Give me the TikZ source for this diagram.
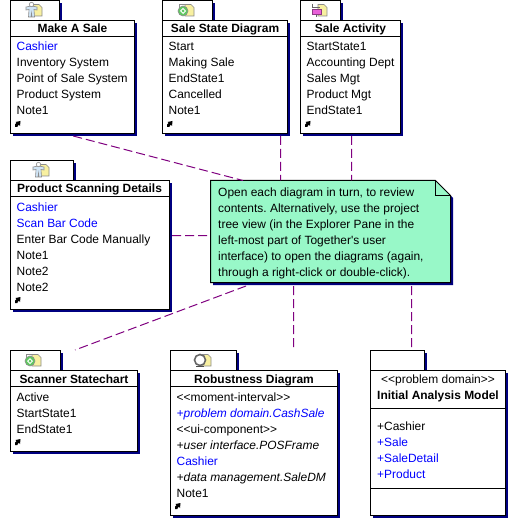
\documentclass[tikz,border=0pt]{standalone}
\usepackage{fontspec}
\defaultfontfeatures[\rmfamily]{}
\setmainfont{Liberation Sans}
\frenchspacing
\usetikzlibrary{shadows}
\definecolor{navyc}{RGB}{0,0,128}
\definecolor{conn}{RGB}{128,0,128}
\definecolor{notec}{RGB}{152,248,200}
\definecolor{docy}{RGB}{248,240,160}
\definecolor{iconb}{RGB}{176,212,240}
\definecolor{icong}{RGB}{96,200,96}
\definecolor{iconm}{RGB}{232,96,216}
\newcommand{\bl}[1]{\textcolor{blue}{#1}}
\newcommand{\itb}[1]{\textcolor{blue}{\itshape #1}}
\tikzset{
  x=1bp,y=-1bp,
  shadowed/.style={drop shadow={shadow xshift=2.5bp,shadow yshift=-2.5bp,fill=navyc,opacity=1}},
  pkgpart/.style={draw=black,fill=white,line width=1bp,rectangle,anchor=north west,inner sep=0pt,outer sep=0pt,shadowed},
  itemtext/.style={anchor=base west,inner sep=0pt,font=\fontsize{12}{16}\selectfont\frenchspacing},
  titletext/.style={anchor=base,inner sep=0pt,font=\fontsize{12}{16}\selectfont\bfseries},
  rulel/.style={line width=1bp,black},
  connl/.style={conn,line width=1bp,dash pattern=on 9bp off 4bp},
  icono/.style={draw=black!45,line width=.6bp},
  docicon/.pic={\path[icono,fill=docy] (-1,-5.5) -- (5,-5.5) -- (8,-2.5) -- (8,6) -- (-1,6) -- cycle;},
  personicon/.pic={
    \pic at (0,0) {docicon};
    \path[icono,fill=iconb!60!white] (-8,-3) -- (-2.5,-4) -- (3,-3) -- (3,0) -- (0,-.5) -- (.5,7) -- (-2,7) -- (-2.5,3) -- (-3,7) -- (-5.5,7) -- (-5,-.5) -- (-8,0) -- cycle;
    \path[icono,fill=white] (-2.5,-5.5) circle[radius=2.2];},
  stateicon/.pic={
    \path[icono,fill=white] (-7,-6) rectangle (3,3);
    \pic at (0,0) {docicon};
    \path[icono,fill=icong] (-3,1) circle[radius=5];
    \path[fill=white] (-3,-2) -- (0,1) -- (-3,4) -- (-6,1) -- cycle;
    \path[fill=icong] (-3,-.5) -- (-1.5,1) -- (-3,2.5) -- (-4.5,1) -- cycle;},
  actionicon/.pic={
    \pic at (0,0) {docicon};
    \draw[black!60,line width=.8bp] (-7,-6) -- (-7,-3) -- (1,-3) (-7,4) -- (-3,4) -- (-3,7);
    \path[draw=iconm!60!black,line width=.5bp,fill=iconm] (-7,-1) rectangle (2,4);},
  robusticon/.pic={
    \pic at (0,0) {docicon};
    \path[draw=black!60,line width=1.6bp,fill=white] (-3,0) circle[radius=5.5];
    \path[fill=black!70] (-7,6) rectangle (1,7);},
  jumpicon/.pic={\fill[black] (0,6) -- (0,3.5) -- (1.5,2) -- (.5,1) -- (5.5,0) -- (5,5) -- (3.7,3.6) -- (2.3,6) -- cycle;}
}
% name, left, tabtop, tabright, right, bottom
\newcommand{\pkgbox}[6]{%
  \pgfmathsetlengthmacro{\tw}{(#4-#2)*1bp}%
  \pgfmathsetlengthmacro{\bw}{(#5-#2)*1bp}%
  \pgfmathsetlengthmacro{\bh}{(#6-#3-20)*1bp}%
  \node[pkgpart,minimum width=\tw,minimum height=20bp] (#1-tab) at (#2,#3) {};
  \node[pkgpart,minimum width=\bw,minimum height=\bh] (#1) at (#2,#3+20) {};
}
% name, x, first baseline, list
\newcommand{\itemlist}[4]{%
  \foreach \t [count=\i from 0] in {#4}{
    \node[itemtext] (#1-\i) at (#2,#3+16*\i) {\t};
  }%
}
\newcommand{\headrule}[1]{\draw[rulel] ([yshift=-16bp]#1.north west) -- ([yshift=-16bp]#1.north east);}
\begin{document}
\begin{tikzpicture}
\useasboundingbox[fill=white] (0,0) rectangle (519,519);
\pkgbox{makesale}{10.5}{.5}{59.5}{134.5}{133.5}
\pkgbox{salestate}{162.5}{.5}{212.5}{287.5}{133.5}
\pkgbox{saleact}{300.5}{.5}{340.5}{400.5}{133.5}
\pkgbox{prodscan}{10.5}{160.5}{73.5}{169.5}{309.5}
\pkgbox{scanner}{10.5}{350.5}{60.5}{137.5}{451.5}
\pkgbox{robust}{170.5}{350.5}{236.5}{337.5}{515.5}
\pkgbox{initial}{370.5}{350.5}{424.5}{505.5}{515.5}
\headrule{makesale}\headrule{salestate}\headrule{saleact}\headrule{prodscan}\headrule{scanner}\headrule{robust}
\draw[rulel] ([yshift=-38bp]initial.north west) -- ([yshift=-38bp]initial.north east);
\draw[rulel] ([yshift=27bp]initial.south west) -- ([yshift=27bp]initial.south east);
% note
\node[inner sep=0pt,outer sep=0pt,minimum width=240bp,minimum height=102bp,anchor=north west] (note) at (210.5,180.5) {};
\fill[navyc] ([xshift=2.5bp,yshift=-2.5bp]note.north west) -- ([xshift=-12.5bp,yshift=-2.5bp]note.north east) -- ([xshift=2.5bp,yshift=-17.5bp]note.north east) -- ([xshift=2.5bp,yshift=-2.5bp]note.south east) -- ([xshift=2.5bp,yshift=-2.5bp]note.south west) -- cycle;
\draw[line width=1bp,fill=notec] (note.north west) -- ([xshift=-15bp]note.north east) -- ([yshift=-15bp]note.north east) -- (note.south east) -- (note.south west) -- cycle;
\draw[line width=1bp] ([xshift=-15bp]note.north east) -- ([xshift=-15bp,yshift=-15bp]note.north east) -- ([yshift=-15bp]note.north east);
\itemlist{notel}{218}{196.5}{{Open each diagram in turn, to review},{contents. Alternatively, use the project},{tree view (in the Explorer Pane in the},{left-most part of Together's user},{interface) to open the diagrams (again,},{through a right-click or double-click).}}
% texts
\node[titletext] (t1) at (72.5,33) {Make A Sale};
\node[titletext] (t2) at (225,33) {Sale State Diagram};
\node[titletext] (t3) at (350.5,33) {Sale Activity};
\node[titletext] (t4) at (89.5,193) {Product Scanning Details};
\node[titletext] (t5) at (74,383) {Scanner Statechart};
\node[titletext] (t6) at (254,383) {Robustness Diagram};
\node[itemtext,anchor=base] (t7a) at (438,383) {<{}<problem domain>{}>};
\node[titletext] (t7) at (438,399) {Initial Analysis Model};
\itemlist{a}{16.5}{51}{\bl{Cashier},Inventory System,Point of Sale System,Product System,Note1}
\itemlist{b}{168.5}{51}{Start,Making Sale,EndState1,Cancelled,Note1}
\itemlist{c}{306.5}{51}{StartState1,Accounting Dept,Sales Mgt,Product Mgt,EndState1}
\itemlist{d}{16.5}{211}{\bl{Cashier},\bl{Scan Bar Code},Enter Bar Code Manually,Note1,Note2,Note2}
\itemlist{e}{16.5}{401}{Active,StartState1,EndState1}
\itemlist{f}{176.5}{401}{<{}<moment-interval>{}>,\itb{+problem domain.CashSale},<{}<ui-component>{}>,{\itshape +user interface.POSFrame},\bl{Cashier},{\itshape +data management.SaleDM},Note1}
\itemlist{g}{377}{430}{+Cashier,\bl{+Sale},\bl{+SaleDetail},\bl{+Product}}
% icons
\pic at (34,10) {personicon};
\pic at (186,10) {stateicon};
\pic at (319,10) {actionicon};
\pic at (41,170) {personicon};
\pic at (33,360) {stateicon};
\pic at (203,360) {robusticon};
\pic at (15,121) {jumpicon};
\pic at (167,121) {jumpicon};
\pic at (305,121) {jumpicon};
\pic at (15,297) {jumpicon};
\pic at (15,439) {jumpicon};
\pic at (175,503) {jumpicon};
% connectors between nodes
\draw[connl] ([xshift=.8bp,yshift=-2.5bp]makesale.south) -- ([xshift=-87.5bp]note.north);
\draw[connl] ([xshift=55.5bp,yshift=-2.5bp]salestate.south) -- ([xshift=-50bp]note.north);
\draw[connl] ([xshift=1bp,yshift=-2.5bp]saleact.south) -- ([xshift=21bp]note.north);
\draw[connl] ([xshift=2.5bp,yshift=9.5bp]prodscan.east) -- ([yshift=-4bp]note.west);
\draw[connl] ([xshift=-84.5bp,yshift=-3.5bp]note.south) -- ([xshift=1bp,yshift=20.5bp]scanner.north);
\draw[connl] ([xshift=-37bp,yshift=-3.5bp]note.south) -- ([xshift=39.5bp,yshift=20.5bp]robust.north);
\draw[connl] ([xshift=81bp,yshift=-3.5bp]note.south) -- ([xshift=14bp]initial-tab.north);
\end{tikzpicture}
\end{document}
